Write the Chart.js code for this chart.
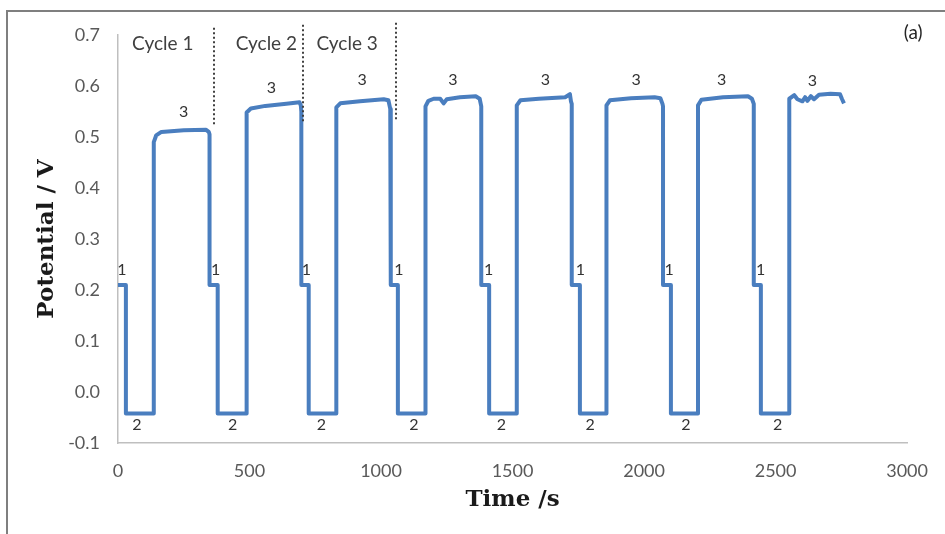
<!DOCTYPE html>
<html>
<head>
<meta charset="utf-8">
<script src="https://cdn.jsdelivr.net/npm/chart.js@4/dist/chart.umd.min.js"></script>
<style>
  html, body { margin: 0; padding: 0; background: #fff; }
  #wrap { width: 945px; height: 534px; position: relative; }
</style>
</head>
<body>
<div id="wrap"><canvas id="chart"></canvas></div>
<script>
// =========================
// DATA
// =========================
// trace vertices: time (s) and potential (V)
const timeS = [
  0, 30, 30, 136, 136, 145, 165, 250, 335, 345, 348, 348,
  379, 379, 489, 489, 505, 560, 640, 690, 695, 697, 697,
  725, 725, 830, 830, 845, 920, 1010, 1028, 1035, 1037, 1037,
  1064, 1064, 1169, 1169, 1180, 1200, 1225, 1238, 1250, 1300, 1360, 1375, 1381, 1381,
  1411, 1411, 1516, 1516, 1530, 1600, 1700, 1718, 1722, 1725, 1725,
  1756, 1756, 1857, 1857, 1870, 1950, 2040, 2062, 2070, 2072, 2072,
  2102, 2102, 2205, 2205, 2218, 2300, 2395, 2410, 2417, 2417,
  2444, 2444, 2552, 2552, 2571, 2583, 2602, 2612, 2621, 2634, 2646, 2665, 2709, 2745, 2752, 2760
];
const potentialV = [
  0.21, 0.21, -0.042, -0.042, 0.49, 0.503, 0.51, 0.513, 0.514, 0.51, 0.505, 0.21,
  0.21, -0.042, -0.042, 0.548, 0.556, 0.561, 0.565, 0.568, 0.562, 0.55, 0.21,
  0.21, -0.042, -0.042, 0.558, 0.566, 0.57, 0.574, 0.572, 0.555, 0.55, 0.21,
  0.21, -0.042, -0.042, 0.56, 0.571, 0.575, 0.575, 0.566, 0.574, 0.578, 0.58, 0.575, 0.56, 0.21,
  0.21, -0.042, -0.042, 0.562, 0.572, 0.575, 0.578, 0.584, 0.57, 0.565, 0.21,
  0.21, -0.042, -0.042, 0.562, 0.572, 0.576, 0.578, 0.576, 0.565, 0.56, 0.21,
  0.21, -0.042, -0.042, 0.562, 0.573, 0.578, 0.58, 0.575, 0.565, 0.21,
  0.21, -0.042, -0.042, 0.575, 0.582, 0.574, 0.57, 0.578, 0.571, 0.58, 0.574, 0.583, 0.585, 0.584, 0.575, 0.566
];

// step labels "1", "2", "3" (anchor time / potential)
const step1LabelT = [15, 371, 716, 1068, 1409, 1758, 2095, 2443];
const step1LabelV = [0.239, 0.239, 0.239, 0.239, 0.239, 0.239, 0.239, 0.239];
const step2LabelT = [72, 436, 773, 1125, 1458, 1795, 2159, 2508];
const step2LabelV = [-0.065, -0.065, -0.065, -0.065, -0.065, -0.065, -0.065, -0.065];
const step3LabelT = [250, 583, 928, 1273, 1625, 1970, 2295, 2640];
const step3LabelV = [0.549, 0.596, 0.612, 0.612, 0.612, 0.612, 0.612, 0.61];

// cycle markers
const cycleNames = ["Cycle 1", "Cycle 2", "Cycle 3"];
const cycleNameT = [170, 564, 871];
const cycleNameV = 0.682;
const cycleLineT = [364, 705, 1057];
const cycleLineTop = [0.714, 0.72, 0.724];
const cycleLineBottom = [0.52, 0.527, 0.533];

const xTicks = [0, 500, 1000, 1500, 2000, 2500, 3000];
const yTicks = [-0.1, 0, 0.1, 0.2, 0.3, 0.4, 0.5, 0.6, 0.7];

const points = timeS.map((t, i) => ({ x: t, y: potentialV[i] }));

// =========================
// ANNOTATIONS
// =========================
const annotations = {
  id: "annotations",
  afterDatasetsDraw(chart) {
    const { ctx, scales: { x, y }, chartArea } = chart;
    ctx.save();

    // dotted cycle separators
    ctx.strokeStyle = "#404040";
    ctx.lineWidth = 2;
    ctx.setLineDash([2, 2.5]);
    cycleLineT.forEach((t, i) => {
      const px = Math.round(x.getPixelForValue(t));
      ctx.beginPath();
      ctx.moveTo(px, y.getPixelForValue(cycleLineTop[i]));
      ctx.lineTo(px, y.getPixelForValue(cycleLineBottom[i]));
      ctx.stroke();
    });
    ctx.setLineDash([]);

    ctx.textAlign = "center";
    ctx.textBaseline = "middle";

    ctx.fillStyle = "#404040";
    ctx.font = "19px Lato";
    cycleNames.forEach((n, i) => {
      ctx.fillText(n, x.getPixelForValue(cycleNameT[i]), y.getPixelForValue(cycleNameV));
    });

    ctx.fillStyle = "#333";
    ctx.font = "16px Lato";
    const drawSet = (ts, vs, txt) => ts.forEach((t, i) => {
      ctx.fillText(txt, x.getPixelForValue(t), y.getPixelForValue(vs[i]));
    });
    drawSet(step1LabelT, step1LabelV, "1");
    drawSet(step2LabelT, step2LabelV, "2");
    drawSet(step3LabelT, step3LabelV, "3");

    // panel tag
    ctx.fillStyle = "#262626";
    ctx.font = "19px Lato";
    ctx.fillText("(a)", chartArea.right + 6, chartArea.top - 2);

    ctx.restore();
  },
  afterDraw(chart) {
    // outer frame (cropped on right / bottom)
    const { ctx, width, height } = chart;
    ctx.save();
    ctx.strokeStyle = "#7f7f7f";
    ctx.lineWidth = 2;
    ctx.beginPath();
    ctx.moveTo(7, height);
    ctx.lineTo(7, 11);
    ctx.lineTo(width, 11);
    ctx.stroke();
    ctx.restore();
  }
};

// =========================
// CHART
// =========================
const tickFont = { family: "Lato", size: 18 };
const titleFont = { family: "DejaVu Serif", size: 23, weight: "bold" };

new Chart(document.getElementById("chart"), {
  type: "line",
  data: {
    datasets: [{
      label: "Potential",
      data: points,
      borderColor: "#4a7ebf",
      borderWidth: 4,
      pointRadius: 0,
      tension: 0,
      fill: false,
      borderJoinStyle: "round"
    }]
  },
  options: {
    responsive: true,
    maintainAspectRatio: false,
    animation: false,
    layout: { padding: { left: 20, top: 35, right: 35, bottom: 0 } },
    plugins: { legend: { display: false }, tooltip: { enabled: false } },
    scales: {
      x: {
        type: "linear",
        min: 0,
        max: 3000,
        afterBuildTicks: (s) => { s.ticks = xTicks.map(v => ({ value: v })); },
        afterFit: (s) => { s.height = 91; },
        grid: { display: false, drawTicks: false },
        border: { display: true, color: "#bfbfbf", width: 1.5 },
        ticks: { color: "#595959", font: tickFont, padding: 17, maxRotation: 0, callback: (v) => String(v) },
        title: { display: true, text: "Time /s", color: "#1a1a1a", font: titleFont, padding: { top: 0, bottom: 20 } }
      },
      y: {
        min: -0.1,
        max: 0.7,
        afterBuildTicks: (s) => { s.ticks = yTicks.map(v => ({ value: v })); },
        afterFit: (s) => { s.width = 98; },
        grid: { display: false, drawTicks: false },
        border: { display: true, color: "#bfbfbf", width: 1.5 },
        ticks: { color: "#595959", font: tickFont, padding: 18, callback: (v) => Number(v).toFixed(1) },
        title: { display: true, text: "Potential / V", color: "#1a1a1a", font: titleFont, padding: { top: 13, bottom: 0 } }
      }
    }
  },
  plugins: [annotations]
});
</script>
</body>
</html>
